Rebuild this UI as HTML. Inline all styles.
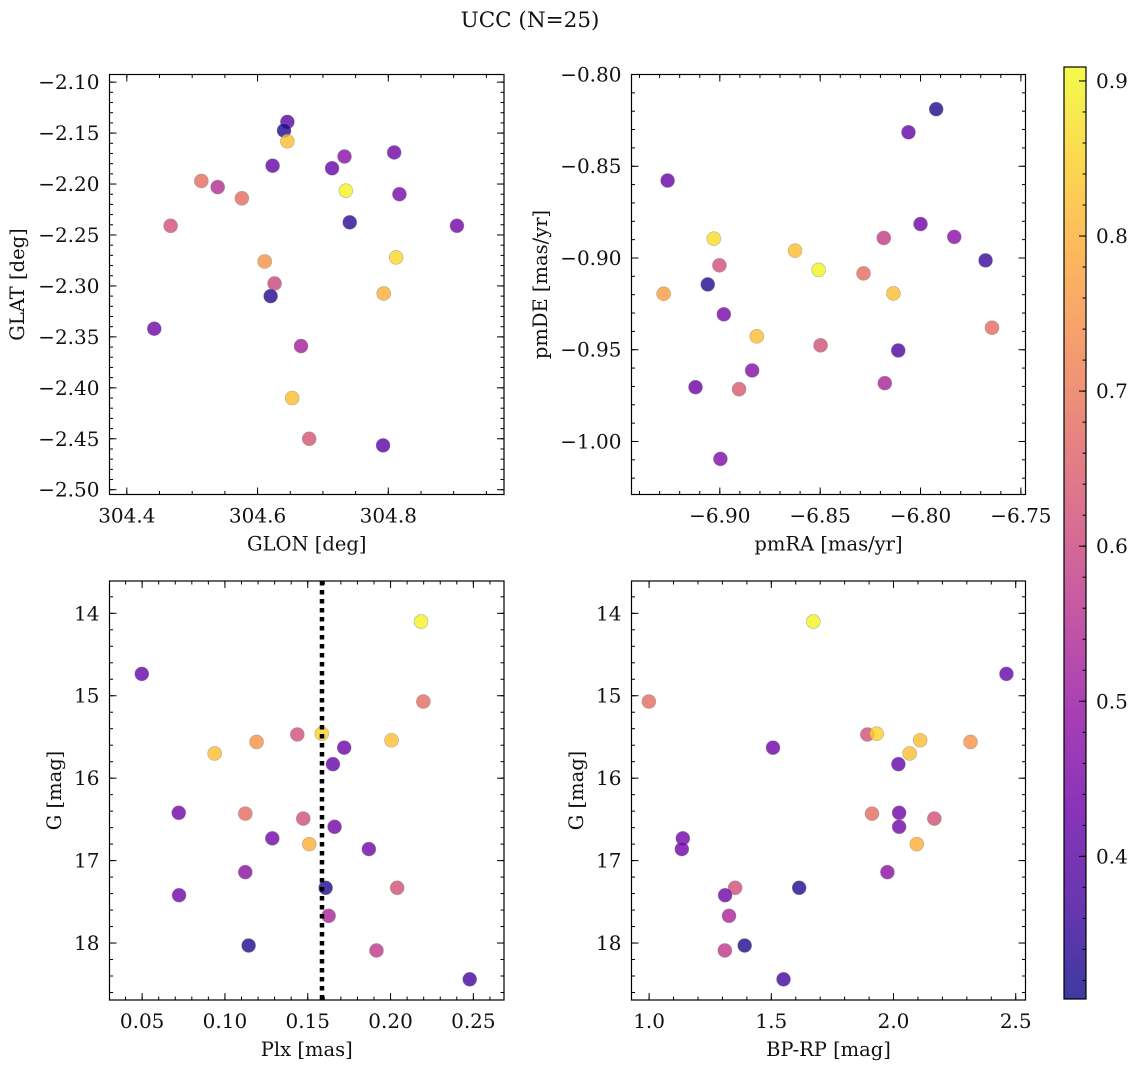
<!DOCTYPE html>
<html><head><meta charset="utf-8"><style>
html,body{margin:0;padding:0;background:#fff;}
svg text{font-family:"DejaVu Serif","Liberation Serif",serif;fill:#111;}
</style></head><body>
<svg id="fig" width="1136" height="1067" xmlns="http://www.w3.org/2000/svg">
<defs>
<linearGradient id="plasma" x1="0" y1="1" x2="0" y2="0">
<stop offset="0" stop-color="#0d0887"/><stop offset="0.1" stop-color="#41049d"/><stop offset="0.2" stop-color="#6a00a8"/><stop offset="0.3" stop-color="#8f0da4"/><stop offset="0.4" stop-color="#b12a90"/><stop offset="0.5" stop-color="#cc4778"/><stop offset="0.6" stop-color="#e16462"/><stop offset="0.7" stop-color="#f2844b"/><stop offset="0.8" stop-color="#fca636"/><stop offset="0.9" stop-color="#fcce25"/><stop offset="1" stop-color="#f0f921"/>
</linearGradient>
</defs>
<text x="530" y="27" font-size="21.5" text-anchor="middle">UCC (N=25)</text>
</svg>
<script>
// Panel 1: GLON vs GLAT
const p1X=[304.6456,304.6405,304.6456,304.623,304.514,304.539,304.576,304.467,304.714,304.733,304.809,304.735,304.817,304.741,304.905,304.611,304.626,304.620,304.812,304.793,304.442,304.6665,304.653,304.679,304.792];
const p1Y=[-2.139,-2.1475,-2.158,-2.182,-2.197,-2.203,-2.214,-2.241,-2.1845,-2.173,-2.169,-2.2065,-2.210,-2.2376,-2.241,-2.276,-2.2976,-2.310,-2.272,-2.3074,-2.342,-2.359,-2.410,-2.450,-2.4565];
const p1C=[0.40,0.33,0.82,0.42,0.68,0.55,0.68,0.62,0.42,0.48,0.44,0.90,0.45,0.34,0.44,0.75,0.60,0.33,0.86,0.80,0.44,0.52,0.82,0.63,0.40];
// Panel 2: pmRA vs pmDE
const p2X=[-6.7922,-6.806,-6.926,-6.903,-6.9002,-6.906,-6.928,-6.898,-6.8816,-6.8625,-6.8508,-6.8498,-6.8839,-6.9121,-6.8904,-6.8997,-6.8284,-6.8183,-6.8135,-6.8000,-6.7832,-6.7676,-6.7644,-6.8111,-6.8178];
const p2Y=[-0.8189,-0.8315,-0.8578,-0.8895,-0.904,-0.9144,-0.9195,-0.9307,-0.9427,-0.896,-0.9065,-0.9476,-0.9613,-0.9704,-0.9715,-1.0095,-0.9084,-0.8891,-0.9193,-0.8815,-0.8885,-0.9013,-0.938,-0.9504,-0.9682];
const p2C=[0.33,0.42,0.42,0.87,0.62,0.33,0.77,0.45,0.82,0.82,0.90,0.62,0.47,0.43,0.64,0.46,0.68,0.58,0.82,0.43,0.48,0.36,0.68,0.38,0.53];
// Panel 3: Plx vs G
const p3X=[0.2184,0.0498,0.2198,0.1437,0.1585,0.1191,0.2006,0.0938,0.1720,0.1652,0.0721,0.1123,0.1473,0.1662,0.1286,0.1509,0.1869,0.1123,0.0723,0.1608,0.2040,0.1626,0.1143,0.1915,0.2478];
const p3Y=[14.10,14.735,15.07,15.47,15.46,15.56,15.54,15.70,15.63,15.83,16.42,16.43,16.49,16.59,16.73,16.80,16.86,17.14,17.42,17.33,17.33,17.67,18.03,18.09,18.44];
const p3C=[0.90,0.42,0.68,0.62,0.85,0.75,0.82,0.82,0.43,0.42,0.44,0.68,0.62,0.44,0.44,0.80,0.44,0.48,0.44,0.33,0.62,0.53,0.33,0.57,0.37];
const plxLine=0.1586;
// Panel 4: BP-RP vs G
const p4X=[1.672,2.462,0.999,1.893,1.931,2.109,2.315,2.066,1.507,2.020,1.138,1.134,1.912,2.023,2.167,2.023,2.095,1.975,1.352,1.311,1.614,1.327,1.391,1.310,1.550];
const p4Y=[14.10,14.735,15.07,15.47,15.46,15.54,15.56,15.70,15.63,15.83,16.73,16.86,16.43,16.42,16.49,16.59,16.80,17.14,17.33,17.42,17.33,17.67,18.03,18.09,18.44];
const p4C=[0.90,0.42,0.68,0.62,0.85,0.82,0.75,0.82,0.43,0.42,0.44,0.44,0.68,0.44,0.62,0.44,0.80,0.48,0.62,0.44,0.33,0.53,0.33,0.57,0.37];
// Tick labels
const p1XTicks=[304.4,304.6,304.8];
const p1YTicks=[-2.10,-2.15,-2.20,-2.25,-2.30,-2.35,-2.40,-2.45,-2.50];
const p2XTicks=[-6.90,-6.85,-6.80,-6.75];
const p2YTicks=[-0.80,-0.85,-0.90,-0.95,-1.00];
const p3XTicks=[0.05,0.10,0.15,0.20,0.25];
const gTicks=[14,15,16,17,18];
const p4XTicks=[1.0,1.5,2.0,2.5];
const cbTicks=[0.4,0.5,0.6,0.7,0.8,0.9];
const cMin=0.308, cMax=0.909;

const NS='http://www.w3.org/2000/svg';
const svg=document.getElementById('fig');
const TF=20, LF=19.5;
function mk(tag,attrs,parent){const e=document.createElementNS(NS,tag);for(const k in attrs)e.setAttribute(k,attrs[k]);(parent||svg).appendChild(e);return e;}
const stops=[[13,8,135],[65,4,157],[106,0,168],[143,13,164],[177,42,144],[204,71,120],[225,100,98],[242,132,75],[252,166,54],[252,206,37],[240,249,33]];
function plasma(t){t=Math.max(0,Math.min(1,t));const f=t*10,i=Math.min(9,Math.floor(f)),u=f-i;const a=stops[i],b=stops[i+1];return 'rgb('+a.map((v,k)=>Math.round(v+(b[k]-v)*u)).join(',')+')';}
function fmt(v,d){const s=Math.abs(v).toFixed(d);return (v<0?'\u2212':'')+s;}

function panel(name,box,xr,yr,xMaj,xMin,yMaj,yMin,xT,yT,xd,yd,xs,ys,cs,xlab,ylab,ylabX){
  const g=mk('g',{});
  
  
  const [L,T,R,B]=box;
  const sx=v=>L+(v-xr[0])/(xr[1]-xr[0])*(R-L);
  const sy=v=>T+(v-yr[0])/(yr[1]-yr[0])*(B-T);
  const eps=1e-9;
  function ticksX(step,len){const s=Math.ceil(Math.min(xr[0],xr[1])/step-eps);for(let k=s;k*step<=Math.max(xr[0],xr[1])+eps;k++){const x=sx(k*step);mk('line',{x1:x,x2:x,y1:B,y2:B-len,stroke:'#000','stroke-width':1},g);mk('line',{x1:x,x2:x,y1:T,y2:T+len,stroke:'#000','stroke-width':1},g);}}
  function ticksY(step,len){const lo=Math.min(yr[0],yr[1]),hi=Math.max(yr[0],yr[1]);const s=Math.ceil(lo/step-eps);for(let k=s;k*step<=hi+eps;k++){const y=sy(k*step);mk('line',{x1:L,x2:L+len,y1:y,y2:y,stroke:'#000','stroke-width':1},g);mk('line',{x1:R,x2:R-len,y1:y,y2:y,stroke:'#000','stroke-width':1},g);}}
  ticksX(xMin,3.5);ticksX(xMaj,7);ticksY(yMin,3.5);ticksY(yMaj,7);
  const xl=mk('g',{},g);
  
  
  xT.forEach(v=>{const t=mk('text',{x:sx(v),y:B+28,'font-size':TF,'text-anchor':'middle'},xl);t.textContent=fmt(v,xd);});
  const yl=mk('g',{},g);
  
  
  yT.forEach(v=>{const t=mk('text',{x:L-10,y:sy(v)+7,'font-size':TF,'text-anchor':'end'},yl);t.textContent=fmt(v,yd);});
  const xt=mk('text',{x:(L+R)/2,y:B+56,'font-size':LF,'text-anchor':'middle'},g);
  
  
  xt.textContent=xlab;
  const yt=mk('text',{x:0,y:0,'font-size':LF,'text-anchor':'middle',transform:'translate('+ylabX+','+((T+B)/2)+') rotate(-90)'},g);
  
  
  yt.textContent=ylab;
  const pts=mk('g',{},g);
  
  
  xs.forEach((xv,i)=>{const c=mk('circle',{cx:sx(xv),cy:sy(ys[i]),r:7,fill:plasma((cs[i]-cMin)/(cMax-cMin)),'fill-opacity':0.8,stroke:'#888','stroke-opacity':0.6,'stroke-width':0.6},pts);
    
    });
  const fr=mk('rect',{x:L,y:T,width:R-L,height:B-T,fill:'none',stroke:'#000','stroke-width':1.2},g);
  
  
  return {sx,sy,g};
}
panel('glon-glat-panel',[109.5,74.5,504,494.5],[304.3735,304.977],[-2.0925,-2.5047],0.2,0.05,0.05,0.01,p1XTicks,p1YTicks,1,2,p1X,p1Y,p1C,'GLON [deg]','GLAT [deg]',24);
panel('pm-panel',[631.5,74.5,1025.5,494.5],[-6.944,-6.7477],[-0.80,-1.0289],0.05,0.01,0.05,0.01,p2XTicks,p2YTicks,2,2,p2X,p2Y,p2C,'pmRA [mas/yr]','pmDE [mas/yr]',547);
const p3=panel('plx-g-panel',[109.5,581,504,1000],[0.0303,0.2685],[13.608,18.691],0.05,0.01,1,0.2,p3XTicks,gTicks,2,0,p3X,p3Y,p3C,'Plx [mas]','G [mag]',61);
const dl=mk('line',{x1:p3.sx(plxLine),x2:p3.sx(plxLine),y1:581,y2:1000,stroke:'#000','stroke-width':4.5,'stroke-dasharray':'4.5,4.5'},p3.g);


panel('color-g-panel',[631.5,581,1025.5,1000],[0.928,2.540],[13.608,18.691],0.5,0.1,1,0.2,p4XTicks,gTicks,1,0,p4X,p4Y,p4C,'BP-RP [mag]','G [mag]',583);

// Colorbar
const cb=mk('g',{});


const cT=67,cB=999,cL=1064,cR=1086;
const cy=v=>cB-(v-cMin)/(cMax-cMin)*(cB-cT);
mk('rect',{x:cL,y:cT,width:cR-cL,height:cB-cT,fill:'url(#plasma)','fill-opacity':0.8},cb);
for(let k=Math.ceil(cMin/0.02);k*0.02<=cMax;k++){const y=cy(k*0.02);mk('line',{x1:cR,x2:cR-3.5,y1:y,y2:y,stroke:'#000','stroke-width':1},cb);}
cbTicks.forEach(v=>{const y=cy(v);mk('line',{x1:cR,x2:cR-7,y1:y,y2:y,stroke:'#000','stroke-width':1},cb);const t=mk('text',{x:cR+10,y:y+7,'font-size':TF},cb);t.textContent=v.toFixed(1);});
mk('rect',{x:cL,y:cT,width:cR-cL,height:cB-cT,fill:'none',stroke:'#000','stroke-width':1.2},cb);
</script>
</body></html>
